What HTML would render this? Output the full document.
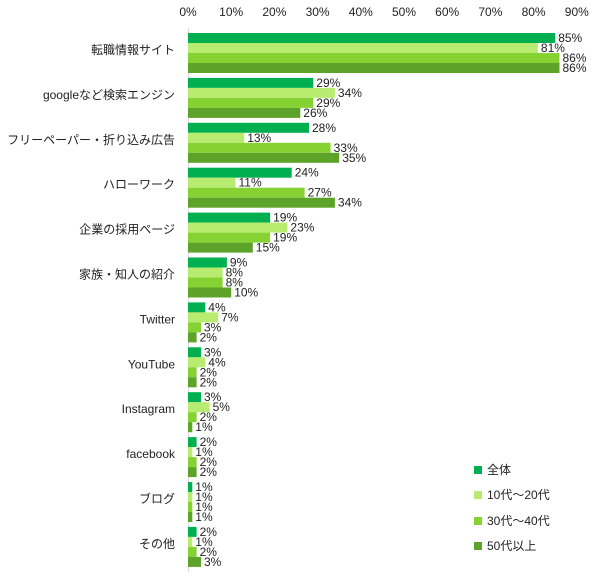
<!DOCTYPE html>
<html><head><meta charset="utf-8"><style>
html,body{margin:0;padding:0;background:#fff}
svg text{font-family:"Liberation Sans","Noto Sans CJK JP",sans-serif;font-size:12px;fill:#222}
.a{fill:#00b050}.b{fill:#b8ec70}.c{fill:#86d232}.d{fill:#5ea329}
</style></head><body>
<svg width="608" height="582" xmlns="http://www.w3.org/2000/svg">
<g text-anchor="middle">
<text x="188" y="16">0%</text><text x="231.2" y="16">10%</text><text x="274.4" y="16">20%</text><text x="317.6" y="16">30%</text><text x="360.8" y="16">40%</text><text x="404" y="16">50%</text><text x="447.2" y="16">60%</text><text x="490.4" y="16">70%</text><text x="533.6" y="16">80%</text><text x="576.8" y="16">90%</text>
</g>
<line x1="188.5" y1="28" x2="188.5" y2="572" stroke="#d9d9d9"/>

<g transform="translate(0,33)">
<text x="175" y="21" text-anchor="end">転職情報サイト</text>
<rect class="a" x="188" y="0" width="367.2" height="10"/><rect class="b" x="188" y="10" width="349.9" height="10"/><rect class="c" x="188" y="20" width="371.5" height="10"/><rect class="d" x="188" y="30" width="371.5" height="10"/>
<text x="558.2" y="9">85%</text><text x="540.9" y="19">81%</text><text x="562.5" y="29">86%</text><text x="562.5" y="39">86%</text>
</g>
<g transform="translate(0,77.9)">
<text x="175" y="21" text-anchor="end">googleなど検索エンジン</text>
<rect class="a" x="188" y="0" width="125.3" height="10"/><rect class="b" x="188" y="10" width="146.9" height="10"/><rect class="c" x="188" y="20" width="125.3" height="10"/><rect class="d" x="188" y="30" width="112.3" height="10"/>
<text x="316.3" y="9">29%</text><text x="337.9" y="19">34%</text><text x="316.3" y="29">29%</text><text x="303.3" y="39">26%</text>
</g>
<g transform="translate(0,122.8)">
<text x="175" y="21" text-anchor="end">フリーペーパー・折り込み広告</text>
<rect class="a" x="188" y="0" width="121" height="10"/><rect class="b" x="188" y="10" width="56.2" height="10"/><rect class="c" x="188" y="20" width="142.6" height="10"/><rect class="d" x="188" y="30" width="151.2" height="10"/>
<text x="312" y="9">28%</text><text x="247.2" y="19">13%</text><text x="333.6" y="29">33%</text><text x="342.2" y="39">35%</text>
</g>
<g transform="translate(0,167.7)">
<text x="175" y="21" text-anchor="end">ハローワーク</text>
<rect class="a" x="188" y="0" width="103.7" height="10"/><rect class="b" x="188" y="10" width="47.5" height="10"/><rect class="c" x="188" y="20" width="116.6" height="10"/><rect class="d" x="188" y="30" width="146.9" height="10"/>
<text x="294.7" y="9">24%</text><text x="238.5" y="19">11%</text><text x="307.6" y="29">27%</text><text x="337.9" y="39">34%</text>
</g>
<g transform="translate(0,212.6)">
<text x="175" y="21" text-anchor="end">企業の採用ページ</text>
<rect class="a" x="188" y="0" width="82.1" height="10"/><rect class="b" x="188" y="10" width="99.4" height="10"/><rect class="c" x="188" y="20" width="82.1" height="10"/><rect class="d" x="188" y="30" width="64.8" height="10"/>
<text x="273.1" y="9">19%</text><text x="290.4" y="19">23%</text><text x="273.1" y="29">19%</text><text x="255.8" y="39">15%</text>
</g>
<g transform="translate(0,257.5)">
<text x="175" y="21" text-anchor="end">家族・知人の紹介</text>
<rect class="a" x="188" y="0" width="38.9" height="10"/><rect class="b" x="188" y="10" width="34.6" height="10"/><rect class="c" x="188" y="20" width="34.6" height="10"/><rect class="d" x="188" y="30" width="43.2" height="10"/>
<text x="229.9" y="9">9%</text><text x="225.6" y="19">8%</text><text x="225.6" y="29">8%</text><text x="234.2" y="39">10%</text>
</g>
<g transform="translate(0,302.4)">
<text x="175" y="21" text-anchor="end">Twitter</text>
<rect class="a" x="188" y="0" width="17.3" height="10"/><rect class="b" x="188" y="10" width="30.2" height="10"/><rect class="c" x="188" y="20" width="13" height="10"/><rect class="d" x="188" y="30" width="8.6" height="10"/>
<text x="208.3" y="9">4%</text><text x="221.2" y="19">7%</text><text x="204" y="29">3%</text><text x="199.6" y="39">2%</text>
</g>
<g transform="translate(0,347.3)">
<text x="175" y="21" text-anchor="end">YouTube</text>
<rect class="a" x="188" y="0" width="13" height="10"/><rect class="b" x="188" y="10" width="17.3" height="10"/><rect class="c" x="188" y="20" width="8.6" height="10"/><rect class="d" x="188" y="30" width="8.6" height="10"/>
<text x="204" y="9">3%</text><text x="208.3" y="19">4%</text><text x="199.6" y="29">2%</text><text x="199.6" y="39">2%</text>
</g>
<g transform="translate(0,392.2)">
<text x="175" y="21" text-anchor="end">Instagram</text>
<rect class="a" x="188" y="0" width="13" height="10"/><rect class="b" x="188" y="10" width="21.6" height="10"/><rect class="c" x="188" y="20" width="8.6" height="10"/><rect class="d" x="188" y="30" width="4.3" height="10"/>
<text x="204" y="9">3%</text><text x="212.6" y="19">5%</text><text x="199.6" y="29">2%</text><text x="195.3" y="39">1%</text>
</g>
<g transform="translate(0,437.1)">
<text x="175" y="21" text-anchor="end">facebook</text>
<rect class="a" x="188" y="0" width="8.6" height="10"/><rect class="b" x="188" y="10" width="4.3" height="10"/><rect class="c" x="188" y="20" width="8.6" height="10"/><rect class="d" x="188" y="30" width="8.6" height="10"/>
<text x="199.6" y="9">2%</text><text x="195.3" y="19">1%</text><text x="199.6" y="29">2%</text><text x="199.6" y="39">2%</text>
</g>
<g transform="translate(0,482)">
<text x="175" y="21" text-anchor="end">ブログ</text>
<rect class="a" x="188" y="0" width="4.3" height="10"/><rect class="b" x="188" y="10" width="4.3" height="10"/><rect class="c" x="188" y="20" width="4.3" height="10"/><rect class="d" x="188" y="30" width="4.3" height="10"/>
<text x="195.3" y="9">1%</text><text x="195.3" y="19">1%</text><text x="195.3" y="29">1%</text><text x="195.3" y="39">1%</text>
</g>
<g transform="translate(0,526.9)">
<text x="175" y="21" text-anchor="end">その他</text>
<rect class="a" x="188" y="0" width="8.6" height="10"/><rect class="b" x="188" y="10" width="4.3" height="10"/><rect class="c" x="188" y="20" width="8.6" height="10"/><rect class="d" x="188" y="30" width="13" height="10"/>
<text x="199.6" y="9">2%</text><text x="195.3" y="19">1%</text><text x="199.6" y="29">2%</text><text x="204" y="39">3%</text>
</g>

<rect class="a" x="474" y="466" width="8" height="8"/><text x="487" y="474">全体</text>
<rect class="b" x="474" y="491" width="8" height="8"/><text x="487" y="499">10代～20代</text>
<rect class="c" x="474" y="517" width="8" height="8"/><text x="487" y="525">30代～40代</text>
<rect class="d" x="474" y="542" width="8" height="8"/><text x="487" y="550">50代以上</text>
</svg>
</body></html>
